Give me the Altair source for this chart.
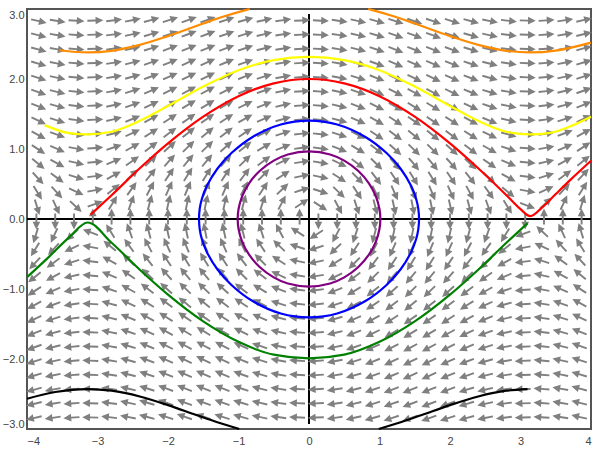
import altair as alt
import numpy as np
import pandas as pd

# ---- axis ticks ----
x_ticks = [-4, -3, -2, -1, 0, 1, 2, 3, 4]
y_ticks = [-3, -2, -1, 0, 1, 2, 3]

# ---- direction-field grid (pendulum: x' = y, y' = -sin x) ----
grid_x = [round(-4 + 8 / 30 * (k + 0.5), 4) for k in range(30)]
grid_y = [round(0.2025 * (j - 14), 4) for j in range(29)]

# ---- trajectories ----
purple_x = [-1.012, -1.0, -0.95, -0.85, -0.7, -0.5, -0.3, 0.0, 0.3, 0.5, 0.7, 0.85, 0.95, 1.0, 1.012,
            1.0, 0.95, 0.85, 0.7, 0.5, 0.3, 0.0, -0.3, -0.5, -0.7, -0.85, -0.95, -1.0, -1.012]
purple_y = [0.0, 0.14, 0.32, 0.51, 0.685, 0.834, 0.922, 0.965, 0.922, 0.834, 0.685, 0.51, 0.32, 0.14, 0.0,
            -0.14, -0.32, -0.51, -0.685, -0.834, -0.922, -0.965, -0.922, -0.834, -0.685, -0.51, -0.32, -0.14, 0.0]

blue_x = [-1.561, -1.55, -1.52, -1.45, -1.3, -1.1, -0.8, -0.4, 0.0, 0.4, 0.8, 1.1, 1.3, 1.45, 1.52, 1.55, 1.561,
          1.55, 1.52, 1.45, 1.3, 1.1, 0.8, 0.4, 0.0, -0.4, -0.8, -1.1, -1.3, -1.45, -1.52, -1.55, -1.561]
blue_y = [0.0, 0.147, 0.286, 0.47, 0.718, 0.942, 1.172, 1.35, 1.405, 1.35, 1.172, 0.942, 0.718, 0.47, 0.286, 0.147, 0.0,
          -0.147, -0.286, -0.47, -0.718, -0.942, -1.172, -1.35, -1.405, -1.35, -1.172, -0.942, -0.718, -0.47, -0.286, -0.147, 0.0]

red_x = [-3.1, -2.8, -2.4, -2.0, -1.5, -1.0, -0.5, 0.0, 0.5, 1.0, 1.5, 2.0, 2.4, 2.8, 3.0, 3.14, 3.3, 3.5, 3.7, 4.0]
red_y = [0.06, 0.34, 0.725, 1.081, 1.463, 1.755, 1.938, 2.0, 1.938, 1.755, 1.463, 1.081, 0.725, 0.34, 0.141, 0.04,
         0.158, 0.356, 0.552, 0.832]

green_x = [-4.0, -3.7, -3.4, -3.14, -2.8, -2.4, -2.0, -1.5, -1.0, -0.5, 0.0, 0.5, 1.0, 1.5, 2.0, 2.4, 2.8, 3.1]
green_y = [-0.832, -0.552, -0.258, -0.05, -0.34, -0.725, -1.081, -1.463, -1.755, -1.938, -1.99, -1.938, -1.755,
           -1.463, -1.081, -0.725, -0.34, -0.06]

yellow_x = [-3.75, -3.4, -3.14, -2.8, -2.4, -2.0, -1.5, -1.0, -0.5, 0.0, 0.5, 1.0, 1.5, 2.0, 2.4, 2.8, 3.14, 3.4, 3.75, 4.0]
yellow_y = [1.341, 1.227, 1.21, 1.247, 1.402, 1.615, 1.892, 2.126, 2.27, 2.315, 2.27, 2.126, 1.892, 1.615, 1.402,
            1.247, 1.21, 1.227, 1.341, 1.46]

orange_left_x = [-3.54, -3.14, -2.8, -2.4, -2.0, -1.5, -1.2, -0.9, -0.84]
orange_left_y = [2.411, 2.379, 2.403, 2.487, 2.613, 2.793, 2.896, 2.984, 3.0]
orange_right_x = [0.84, 0.9, 1.2, 1.5, 2.0, 2.4, 2.8, 3.14, 3.5, 4.0]
orange_right_y = [3.0, 2.984, 2.896, 2.793, 2.613, 2.487, 2.403, 2.379, 2.406, 2.52]

black_left_x = [-4.0, -3.6, -3.14, -2.8, -2.4, -2.0, -1.6, -1.3, -1.0, -0.99]
black_left_y = [-2.567, -2.471, -2.429, -2.453, -2.535, -2.659, -2.8, -2.904, -2.997, -3.0]
black_right_x = [0.99, 1.0, 1.3, 1.6, 2.0, 2.4, 2.8, 3.1]
black_right_y = [-3.0, -2.997, -2.904, -2.8, -2.659, -2.535, -2.453, -2.429]

# ---- layout ----
W, H = 564, 420
sx, sy = W / 8, H / 6

xscale = alt.Scale(domain=[-4, 4], nice=False, zero=False)
yscale = alt.Scale(domain=[-3, 3], nice=False, zero=False)
common_axis = dict(title=None, grid=False, ticks=False, tickSize=0, domain=False, labelFlush=True,
                   labelFontSize=11, labelColor="#444444", labelFont="Liberation Sans")
x_axis = alt.Axis(values=x_ticks, format="d", labelPadding=6, **common_axis)
y_axis = alt.Axis(values=y_ticks, format=".1f", labelPadding=3, **common_axis)


def X(f):
    return alt.X(f, type="quantitative", scale=xscale, axis=x_axis)


def Y(f):
    return alt.Y(f, type="quantitative", scale=yscale, axis=y_axis)


# arrow field
rows = []
for yv in grid_y:
    for xv in grid_x:
        u, v = yv, -np.sin(xv)
        th = np.degrees(np.arctan2(v * sy, u * sx))
        rows.append({"x": xv, "y": yv, "ang": float((90 - th) % 360)})
field = pd.DataFrame(rows)

arrow_path = "M-0.12,0.68L0.12,0.68L0.12,-0.35L0.48,-0.35L0,-1.32L-0.48,-0.35L-0.12,-0.35Z"
arrows = alt.Chart(field).mark_point(
    shape=arrow_path, filled=True, size=256, color="#808080", opacity=1, strokeWidth=0
).encode(x=X("x"), y=Y("y"), angle=alt.Angle("ang:Q", scale=None))

# coordinate axes lines
hline = alt.Chart(pd.DataFrame({"x": [-4], "x2": [4], "y": [0]})).mark_rule(
    color="black", strokeWidth=2).encode(x=X("x"), x2="x2:Q", y=Y("y"))
vline = alt.Chart(pd.DataFrame({"x": [0], "y": [-2.93], "y2": [2.93]})).mark_rule(
    color="black", strokeWidth=2).encode(x=X("x"), y=Y("y"), y2="y2:Q")


def curve(xs, ys, color, interp="monotone"):
    df = pd.DataFrame({"x": xs, "y": ys, "o": list(range(len(xs)))})
    return alt.Chart(df).mark_line(color=color, strokeWidth=2.2, interpolate=interp).encode(
        x=X("x"), y=Y("y"), order="o:Q")


layers = [
    hline, vline, arrows,
    curve(orange_left_x, orange_left_y, "#ff8c00"),
    curve(orange_right_x, orange_right_y, "#ff8c00"),
    curve(yellow_x, yellow_y, "#ffff00"),
    curve(red_x, red_y, "#ff0000"),
    curve(blue_x, blue_y, "#0000ff", "catmull-rom"),
    curve(purple_x, purple_y, "#800080", "catmull-rom"),
    curve(green_x, green_y, "#008000"),
    curve(black_left_x, black_left_y, "#000000"),
    curve(black_right_x, black_right_y, "#000000"),
]

chart = alt.layer(*layers).properties(
    width=W, height=H,
    autosize=alt.AutoSizeParams(type="none"),
    padding={"left": 27, "top": 9, "right": 9, "bottom": 21},
    background="white",
).configure_view(stroke="#555555", strokeWidth=2)

chart.save("out.html", embed_options={"renderer": "svg", "actions": False})
